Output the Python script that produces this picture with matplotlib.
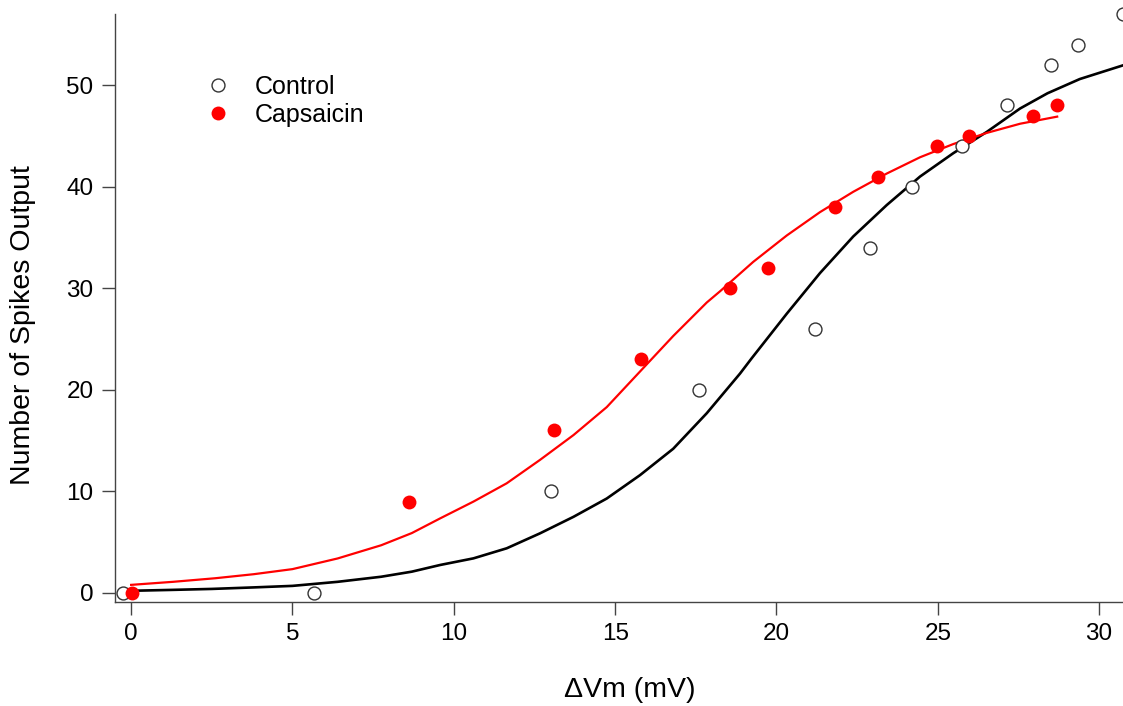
import matplotlib.pyplot as plt

plt.rcParams['font.family'] = ['Liberation Sans', 'DejaVu Sans']

# measured points
control_x = [-0.25, 5.67, 13.0, 17.6, 21.2, 22.9, 24.2, 25.75, 27.15, 28.5, 29.35, 30.74]
control_y = [0, 0, 10, 20, 26, 34, 40, 44, 48, 52, 54, 57]

caps_x = [0.03, 8.6, 13.1, 15.8, 18.55, 19.75, 21.8, 23.15, 24.97, 25.97, 27.95, 28.7]
caps_y = [0, 9, 16, 23, 30, 32, 38, 41, 44, 45, 47, 48]

# fitted curves
control_fit_x = [-0.25, 1.2, 2.5, 3.8, 5.0, 6.4, 7.75, 8.7, 9.58, 10.61, 11.64,
                 12.67, 13.71, 14.74, 15.77, 16.8, 17.84, 18.87, 19.23, 20.32,
                 21.35, 22.38, 23.42, 24.45, 25.48, 26.52, 27.55, 28.4, 29.4, 30.74]
control_fit_y = [0.2, 0.3, 0.4, 0.55, 0.7, 1.1, 1.6, 2.1, 2.76, 3.41, 4.4,
                 5.87, 7.5, 9.3, 11.6, 14.2, 17.7, 21.6, 23.1, 27.5,
                 31.5, 35.1, 38.2, 41.0, 43.3, 45.4, 47.7, 49.2, 50.6, 51.95]

caps_fit_x = [0.0, 1.3, 2.6, 3.8, 5.0, 6.4, 7.75, 8.7, 9.58, 10.61, 11.64, 12.67,
              13.71, 14.74, 15.77, 16.8, 17.84, 18.25, 19.28, 20.32, 21.35,
              22.38, 23.42, 24.45, 25.48, 26.52, 27.55, 28.7]
caps_fit_y = [0.8, 1.1, 1.45, 1.85, 2.35, 3.4, 4.7, 5.9, 7.35, 9.0, 10.8, 13.1,
              15.55, 18.3, 21.8, 25.3, 28.6, 29.7, 32.6, 35.2, 37.5,
              39.5, 41.3, 42.9, 44.2, 45.3, 46.2, 46.9]

fig = plt.figure(figsize=(11.23, 7.06), dpi=100)
ax = fig.add_axes([0.1024, 0.1477, 0.8976, 0.8324])

ax.plot(control_fit_x, control_fit_y, color='black', lw=1.9, zorder=2)
ax.plot(caps_fit_x, caps_fit_y, color='#ff0000', lw=1.6, zorder=2)
ax.plot(control_x, control_y, 'o', ms=9.3, mfc='white', mec='#333333', mew=1.0,
        label='Control', zorder=3, clip_on=False)
ax.plot(caps_x, caps_y, 'o', ms=10, mfc='#ff0000', mec='#ff0000', mew=0,
        label='Capsaicin', zorder=3)

ax.set_xlim(-0.5, 30.74)
ax.set_ylim(-0.86, 57.0)
ax.set_xticks([0, 5, 10, 15, 20, 25, 30])
ax.set_yticks([0, 10, 20, 30, 40, 50])

for side in ['top', 'right']:
    ax.spines[side].set_visible(False)
for side in ['left', 'bottom']:
    ax.spines[side].set_color('#444444')
    ax.spines[side].set_linewidth(1.0)

ax.tick_params(direction='out', length=9.5, width=1.0, color='#444444',
               labelsize=17.5, pad=6)

ax.set_xlabel('\u0394Vm (mV)', fontsize=20.5)
ax.set_ylabel('Number of Spikes Output', fontsize=20.5)
ax.xaxis.set_label_coords(0.511, -0.128)
ax.yaxis.set_label_coords(-0.078, 0.471)

ax.legend(loc='upper left', bbox_to_anchor=(0.0675, 0.913), frameon=False,
          fontsize=18, handletextpad=0.48, labelspacing=0.16, borderaxespad=0)

fig.savefig('out.png', dpi=100)
